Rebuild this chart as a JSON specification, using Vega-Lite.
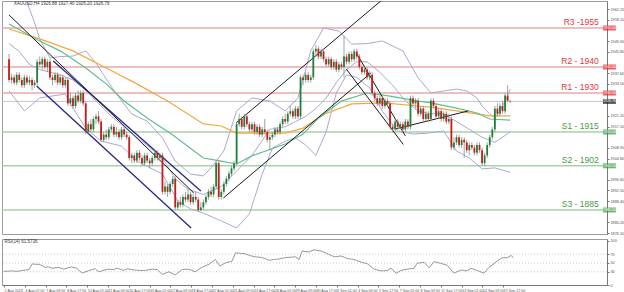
{
"$schema":"https://vega.github.io/schema/vega-lite/v6.json",
"padding":0,
"spacing":2,
"background":"white",
"config":{"view":{"stroke":"#9c9c9c","strokeWidth":1},"font":"Liberation Sans","axis":{"labelOverlap":false,"labelFlush":false,"grid":false,"labelColor":"#555555","tickColor":"#777777","domainColor":"#777777"}},
"datasets":{
"candles":[
{"i":0,"o":1943,"h":1945,"l":1934,"c":1935},{"i":1,"o":1935,"h":1937.5,"l":1933.5,"c":1936},{"i":2,"o":1936,"h":1937,"l":1933,"c":1934},{"i":3,"o":1934,"h":1938,"l":1933,"c":1937},{"i":4,"o":1937,"h":1938,"l":1934,"c":1935},{"i":5,"o":1935,"h":1936,"l":1932,"c":1933},{"i":6,"o":1933,"h":1937,"l":1932,"c":1936},{"i":7,"o":1936,"h":1937,"l":1933,"c":1934},{"i":8,"o":1934,"h":1936.5,"l":1933,"c":1935},{"i":9,"o":1935,"h":1936,"l":1931,"c":1933},
{"i":10,"o":1933,"h":1935,"l":1932,"c":1934},{"i":11,"o":1934,"h":1943,"l":1933,"c":1942},{"i":12,"o":1942,"h":1944,"l":1940,"c":1941},{"i":13,"o":1941,"h":1944,"l":1939,"c":1943},{"i":14,"o":1943,"h":1944,"l":1939,"c":1940},{"i":15,"o":1940,"h":1943,"l":1938,"c":1942},{"i":16,"o":1942,"h":1943,"l":1935,"c":1936},{"i":17,"o":1936,"h":1937,"l":1933,"c":1935},{"i":18,"o":1935,"h":1938,"l":1934,"c":1937},{"i":19,"o":1937,"h":1938,"l":1933,"c":1934},
{"i":20,"o":1934,"h":1937,"l":1933,"c":1936},{"i":21,"o":1936,"h":1937,"l":1932,"c":1933},{"i":22,"o":1933,"h":1936,"l":1932,"c":1935},{"i":23,"o":1935,"h":1936,"l":1925,"c":1926},{"i":24,"o":1926,"h":1930,"l":1925,"c":1928},{"i":25,"o":1928,"h":1929,"l":1924,"c":1925},{"i":26,"o":1925,"h":1930,"l":1924,"c":1929},{"i":27,"o":1929,"h":1931,"l":1926,"c":1927},{"i":28,"o":1927,"h":1931,"l":1926,"c":1930},{"i":29,"o":1930,"h":1931,"l":1925,"c":1926},
{"i":30,"o":1926,"h":1927,"l":1914,"c":1915},{"i":31,"o":1915,"h":1919,"l":1914,"c":1918},{"i":32,"o":1918,"h":1920,"l":1915,"c":1916},{"i":33,"o":1916,"h":1921,"l":1915,"c":1920},{"i":34,"o":1920,"h":1922,"l":1918,"c":1921},{"i":35,"o":1921,"h":1923,"l":1918,"c":1919},{"i":36,"o":1919,"h":1920,"l":1911,"c":1912},{"i":37,"o":1912,"h":1915,"l":1911,"c":1914},{"i":38,"o":1914,"h":1916,"l":1912,"c":1913},{"i":39,"o":1913,"h":1917,"l":1912,"c":1916},
{"i":40,"o":1916,"h":1918,"l":1915,"c":1917},{"i":41,"o":1917,"h":1918,"l":1913,"c":1914},{"i":42,"o":1914,"h":1917,"l":1913,"c":1915},{"i":43,"o":1915,"h":1916,"l":1912,"c":1913},{"i":44,"o":1913,"h":1917,"l":1912,"c":1916},{"i":45,"o":1916,"h":1917,"l":1913,"c":1914},{"i":46,"o":1914,"h":1915,"l":1912,"c":1913},{"i":47,"o":1913,"h":1914,"l":1904,"c":1905},{"i":48,"o":1905,"h":1907,"l":1903,"c":1906},{"i":49,"o":1906,"h":1907,"l":1903,"c":1904},
{"i":50,"o":1904,"h":1908,"l":1903,"c":1907},{"i":51,"o":1907,"h":1908,"l":1904,"c":1905},{"i":52,"o":1905,"h":1906,"l":1902,"c":1903},{"i":53,"o":1903,"h":1907,"l":1902,"c":1906},{"i":54,"o":1906,"h":1907,"l":1903,"c":1904},{"i":55,"o":1904,"h":1905,"l":1901,"c":1903},{"i":56,"o":1903,"h":1906,"l":1902,"c":1905},{"i":57,"o":1905,"h":1908,"l":1904,"c":1907},{"i":58,"o":1907,"h":1908,"l":1904,"c":1905},{"i":59,"o":1905,"h":1907,"l":1904,"c":1906},
{"i":60,"o":1906,"h":1907,"l":1891,"c":1892},{"i":61,"o":1892,"h":1896,"l":1891,"c":1894},{"i":62,"o":1894,"h":1895,"l":1890,"c":1892},{"i":63,"o":1892,"h":1896,"l":1891,"c":1895},{"i":64,"o":1895,"h":1898,"l":1894,"c":1897},{"i":65,"o":1897,"h":1898,"l":1885,"c":1886},{"i":66,"o":1886,"h":1889,"l":1885,"c":1888},{"i":67,"o":1888,"h":1890,"l":1886,"c":1887},{"i":68,"o":1887,"h":1891,"l":1886,"c":1890},{"i":69,"o":1890,"h":1892,"l":1888,"c":1889},
{"i":70,"o":1889,"h":1893,"l":1888,"c":1891},{"i":71,"o":1891,"h":1892,"l":1887,"c":1888},{"i":72,"o":1888,"h":1891,"l":1887,"c":1890},{"i":73,"o":1890,"h":1892,"l":1888,"c":1889},{"i":74,"o":1889,"h":1890,"l":1884.5,"c":1885},{"i":75,"o":1885,"h":1888,"l":1884.5,"c":1886},{"i":76,"o":1886,"h":1889,"l":1885,"c":1888},{"i":77,"o":1888,"h":1891,"l":1887,"c":1890},{"i":78,"o":1890,"h":1893,"l":1889,"c":1892},{"i":79,"o":1892,"h":1894,"l":1890,"c":1891},
{"i":80,"o":1891,"h":1895,"l":1890,"c":1894},{"i":81,"o":1894,"h":1904,"l":1893,"c":1903},{"i":82,"o":1903,"h":1904,"l":1889,"c":1890},{"i":83,"o":1890,"h":1893,"l":1889,"c":1892},{"i":84,"o":1892,"h":1896,"l":1891,"c":1895},{"i":85,"o":1895,"h":1898,"l":1894,"c":1897},{"i":86,"o":1897,"h":1900,"l":1896,"c":1899},{"i":87,"o":1899,"h":1902,"l":1898,"c":1901},{"i":88,"o":1901,"h":1904,"l":1900,"c":1903},{"i":89,"o":1903,"h":1919,"l":1902,"c":1918},
{"i":90,"o":1918,"h":1922,"l":1917,"c":1920},{"i":91,"o":1920,"h":1921,"l":1916,"c":1917},{"i":92,"o":1917,"h":1922,"l":1916,"c":1921},{"i":93,"o":1921,"h":1922,"l":1917,"c":1918},{"i":94,"o":1918,"h":1919,"l":1915,"c":1916},{"i":95,"o":1916,"h":1919,"l":1915,"c":1918},{"i":96,"o":1918,"h":1919,"l":1914,"c":1915},{"i":97,"o":1915,"h":1918,"l":1914,"c":1917},{"i":98,"o":1917,"h":1918,"l":1913,"c":1914},{"i":99,"o":1914,"h":1917,"l":1913,"c":1916},
{"i":100,"o":1916,"h":1920,"l":1914,"c":1915},{"i":101,"o":1915,"h":1916,"l":1911,"c":1912},{"i":102,"o":1912,"h":1914,"l":1908,"c":1913},{"i":103,"o":1913,"h":1915,"l":1912,"c":1914},{"i":104,"o":1914,"h":1917,"l":1913,"c":1916},{"i":105,"o":1916,"h":1917,"l":1914,"c":1915},{"i":106,"o":1915,"h":1919,"l":1914,"c":1918},{"i":107,"o":1918,"h":1921,"l":1917,"c":1920},{"i":108,"o":1920,"h":1922,"l":1918,"c":1919},{"i":109,"o":1919,"h":1923,"l":1918,"c":1922},
{"i":110,"o":1922,"h":1925,"l":1921,"c":1923},{"i":111,"o":1923,"h":1924,"l":1920,"c":1921},{"i":112,"o":1921,"h":1925,"l":1920,"c":1924},{"i":113,"o":1924,"h":1925,"l":1920,"c":1921},{"i":114,"o":1921,"h":1937,"l":1920,"c":1936},{"i":115,"o":1936,"h":1937,"l":1933,"c":1935},{"i":116,"o":1935,"h":1938,"l":1934,"c":1937},{"i":117,"o":1937,"h":1938,"l":1934,"c":1935},{"i":118,"o":1935,"h":1937,"l":1934,"c":1936},{"i":119,"o":1936,"h":1947,"l":1935,"c":1946},
{"i":120,"o":1946,"h":1948.5,"l":1944,"c":1947},{"i":121,"o":1947,"h":1948,"l":1943,"c":1944},{"i":122,"o":1944,"h":1947,"l":1943,"c":1946},{"i":123,"o":1946,"h":1947,"l":1942,"c":1943},{"i":124,"o":1943,"h":1944,"l":1940,"c":1941},{"i":125,"o":1941,"h":1944,"l":1940,"c":1943},{"i":126,"o":1943,"h":1944,"l":1939,"c":1940},{"i":127,"o":1940,"h":1943,"l":1939,"c":1942},{"i":128,"o":1942,"h":1943,"l":1938,"c":1939},{"i":129,"o":1939,"h":1942,"l":1938,"c":1941},
{"i":130,"o":1941,"h":1942,"l":1939,"c":1940},{"i":131,"o":1940,"h":1952,"l":1936,"c":1944},{"i":132,"o":1944,"h":1945,"l":1941,"c":1942},{"i":133,"o":1942,"h":1946,"l":1941,"c":1945},{"i":134,"o":1945,"h":1946,"l":1942,"c":1943},{"i":135,"o":1943,"h":1947,"l":1942,"c":1946},{"i":136,"o":1946,"h":1947,"l":1943,"c":1944},{"i":137,"o":1944,"h":1945,"l":1939,"c":1940},{"i":138,"o":1940,"h":1941,"l":1937,"c":1938},{"i":139,"o":1938,"h":1940,"l":1937,"c":1939},
{"i":140,"o":1939,"h":1940,"l":1935,"c":1936},{"i":141,"o":1936,"h":1938.5,"l":1935,"c":1937},{"i":142,"o":1937,"h":1938,"l":1929,"c":1930},{"i":143,"o":1930,"h":1931,"l":1927,"c":1928},{"i":144,"o":1928,"h":1929,"l":1925,"c":1926},{"i":145,"o":1926,"h":1929,"l":1925,"c":1928},{"i":146,"o":1928,"h":1929,"l":1924,"c":1925},{"i":147,"o":1925,"h":1928,"l":1924,"c":1927},{"i":148,"o":1927,"h":1928,"l":1925,"c":1926},{"i":149,"o":1926,"h":1927,"l":1916,"c":1917},
{"i":150,"o":1917,"h":1918,"l":1915,"c":1916},{"i":151,"o":1916,"h":1920,"l":1915,"c":1919},{"i":152,"o":1919,"h":1920,"l":1916,"c":1917},{"i":153,"o":1917,"h":1919,"l":1916,"c":1918},{"i":154,"o":1918,"h":1919,"l":1915,"c":1916},{"i":155,"o":1916,"h":1920,"l":1915,"c":1919},{"i":156,"o":1919,"h":1920,"l":1916,"c":1917},{"i":157,"o":1917,"h":1929,"l":1916,"c":1928},{"i":158,"o":1928,"h":1929,"l":1925,"c":1926},{"i":159,"o":1926,"h":1928,"l":1924,"c":1927},
{"i":160,"o":1927,"h":1928,"l":1921,"c":1922},{"i":161,"o":1922,"h":1925,"l":1921,"c":1924},{"i":162,"o":1924,"h":1925,"l":1919,"c":1920},{"i":163,"o":1920,"h":1923,"l":1919,"c":1922},{"i":164,"o":1922,"h":1923,"l":1919,"c":1920},{"i":165,"o":1920,"h":1928,"l":1919,"c":1927},{"i":166,"o":1927,"h":1928,"l":1924,"c":1925},{"i":167,"o":1925,"h":1926,"l":1920,"c":1921},{"i":168,"o":1921,"h":1924,"l":1920,"c":1923},{"i":169,"o":1923,"h":1924,"l":1919,"c":1920},
{"i":170,"o":1920,"h":1923,"l":1919,"c":1922},{"i":171,"o":1922,"h":1923,"l":1918,"c":1919},{"i":172,"o":1919,"h":1922,"l":1918,"c":1920},{"i":173,"o":1920,"h":1921,"l":1908,"c":1909},{"i":174,"o":1909,"h":1913,"l":1908,"c":1911},{"i":175,"o":1911,"h":1914,"l":1910,"c":1913},{"i":176,"o":1913,"h":1914,"l":1909,"c":1910},{"i":177,"o":1910,"h":1913,"l":1909,"c":1912},{"i":178,"o":1912,"h":1913,"l":1905,"c":1911},{"i":179,"o":1911,"h":1912,"l":1907,"c":1908},
{"i":180,"o":1908,"h":1911,"l":1906,"c":1910},{"i":181,"o":1910,"h":1911,"l":1908,"c":1909},{"i":182,"o":1909,"h":1910,"l":1906,"c":1907},{"i":183,"o":1907,"h":1911,"l":1906,"c":1910},{"i":184,"o":1910,"h":1911,"l":1907,"c":1908},{"i":185,"o":1908,"h":1909,"l":1902,"c":1903},{"i":186,"o":1903,"h":1907,"l":1902,"c":1906},{"i":187,"o":1906,"h":1911,"l":1905,"c":1910},{"i":188,"o":1910,"h":1914,"l":1909,"c":1913},{"i":189,"o":1913,"h":1917,"l":1912,"c":1916},
{"i":190,"o":1916,"h":1925,"l":1915,"c":1924},{"i":191,"o":1924,"h":1926,"l":1921,"c":1922},{"i":192,"o":1922,"h":1926,"l":1921,"c":1925},{"i":193,"o":1925,"h":1927,"l":1922,"c":1923},{"i":194,"o":1923,"h":1930,"l":1922,"c":1929},{"i":195,"o":1929,"h":1933,"l":1926.5,"c":1927},{"i":196,"o":1926.88,"h":1927.4,"l":1926.2,"c":1926.76}
],
"bb":[
{"s":"u","i":0,"p":1969},{"s":"u","i":4,"p":1967},{"s":"u","i":7,"p":1965},{"s":"u","i":10,"p":1957},{"s":"u","i":12,"p":1950.8},{"s":"u","i":16,"p":1943.5},{"s":"u","i":20,"p":1944},{"s":"u","i":25,"p":1944.2},{"s":"u","i":30,"p":1946.2},{"s":"u","i":34,"p":1941.5},{"s":"u","i":38,"p":1935.4},{"s":"u","i":42,"p":1929.6},{"s":"u","i":48,"p":1921.9},{"s":"u","i":54,"p":1919.2},{"s":"u","i":60,"p":1912.7},{"s":"u","i":65,"p":1903.8},{"s":"u","i":71,"p":1898.8},{"s":"u","i":76,"p":1898.1},{"s":"u","i":79,"p":1901.2},{"s":"u","i":84,"p":1907.7},{"s":"u","i":89,"p":1923.1},{"s":"u","i":95,"p":1928.1},{"s":"u","i":102,"p":1926.9},{"s":"u","i":108,"p":1923.1},{"s":"u","i":113,"p":1928.1},{"s":"u","i":118,"p":1946.2},{"s":"u","i":123,"p":1955},{"s":"u","i":129,"p":1953.8},{"s":"u","i":134,"p":1948.8},{"s":"u","i":140,"p":1949},{"s":"u","i":146,"p":1950},{"s":"u","i":154,"p":1946.2},{"s":"u","i":160,"p":1935.8},{"s":"u","i":165,"p":1930},{"s":"u","i":170,"p":1930.8},{"s":"u","i":175,"p":1931.5},{"s":"u","i":179,"p":1930.8},{"s":"u","i":183,"p":1928.1},{"s":"u","i":185,"p":1925},{"s":"u","i":188,"p":1921.9},{"s":"u","i":190,"p":1920.4},{"s":"u","i":192,"p":1923.1},{"s":"u","i":195,"p":1928.8},{"s":"u","i":196,"p":1931.5},
{"s":"m","i":0,"p":1949},{"s":"m","i":4,"p":1946},{"s":"m","i":8,"p":1941},{"s":"m","i":12,"p":1939},{"s":"m","i":16,"p":1938},{"s":"m","i":20,"p":1937},{"s":"m","i":25,"p":1935},{"s":"m","i":30,"p":1931},{"s":"m","i":35,"p":1926},{"s":"m","i":40,"p":1921},{"s":"m","i":45,"p":1917},{"s":"m","i":50,"p":1913},{"s":"m","i":55,"p":1909},{"s":"m","i":60,"p":1905},{"s":"m","i":65,"p":1897},{"s":"m","i":70,"p":1893},{"s":"m","i":76,"p":1891},{"s":"m","i":83,"p":1894},{"s":"m","i":89,"p":1900},{"s":"m","i":95,"p":1906},{"s":"m","i":102,"p":1916},{"s":"m","i":108,"p":1917},{"s":"m","i":112,"p":1919},{"s":"m","i":116,"p":1921},{"s":"m","i":120,"p":1924},{"s":"m","i":124,"p":1928},{"s":"m","i":128,"p":1934},{"s":"m","i":132,"p":1939},{"s":"m","i":136,"p":1942},{"s":"m","i":140,"p":1942},{"s":"m","i":145,"p":1938},{"s":"m","i":150,"p":1933},{"s":"m","i":155,"p":1927},{"s":"m","i":160,"p":1923},{"s":"m","i":165,"p":1922},{"s":"m","i":170,"p":1922},{"s":"m","i":175,"p":1919},{"s":"m","i":180,"p":1916},{"s":"m","i":185,"p":1913},{"s":"m","i":190,"p":1911},{"s":"m","i":196,"p":1915},
{"s":"l","i":0,"p":1930.8},{"s":"l","i":6,"p":1923.1},{"s":"l","i":12,"p":1928.1},{"s":"l","i":22,"p":1929.6},{"s":"l","i":25,"p":1924.2},{"s":"l","i":30,"p":1916.5},{"s":"l","i":36,"p":1911.5},{"s":"l","i":44,"p":1909.6},{"s":"l","i":50,"p":1903.8},{"s":"l","i":60,"p":1898.8},{"s":"l","i":66,"p":1888.5},{"s":"l","i":71,"p":1885.4},{"s":"l","i":76,"p":1883.8},{"s":"l","i":83,"p":1880.8},{"s":"l","i":89,"p":1878.1},{"s":"l","i":94,"p":1883.5},{"s":"l","i":99,"p":1898.8},{"s":"l","i":103,"p":1908.8},{"s":"l","i":108,"p":1911.5},{"s":"l","i":112,"p":1912.7},{"s":"l","i":116,"p":1910},{"s":"l","i":120,"p":1906},{"s":"l","i":124,"p":1915},{"s":"l","i":128,"p":1930},{"s":"l","i":132,"p":1937},{"s":"l","i":136,"p":1936},{"s":"l","i":141,"p":1932},{"s":"l","i":146,"p":1923},{"s":"l","i":152,"p":1915.4},{"s":"l","i":158,"p":1914.2},{"s":"l","i":164,"p":1914.6},{"s":"l","i":170,"p":1915.4},{"s":"l","i":175,"p":1907.7},{"s":"l","i":180,"p":1905},{"s":"l","i":185,"p":1900.8},{"s":"l","i":190,"p":1901.2},{"s":"l","i":196,"p":1899.5}
],
"ma":[
{"s":"g","i":0,"p":1956.5},{"s":"g","i":12,"p":1950},{"s":"g","i":20,"p":1946.2},{"s":"g","i":30,"p":1939.6},{"s":"g","i":38,"p":1933.5},{"s":"g","i":45,"p":1926.9},{"s":"g","i":54,"p":1920.4},{"s":"g","i":63.5,"p":1914.2},{"s":"g","i":76,"p":1905},{"s":"g","i":83,"p":1903.8},{"s":"g","i":89,"p":1902.7},{"s":"g","i":95,"p":1905.8},{"s":"g","i":108,"p":1910.4},{"s":"g","i":115,"p":1914.2},{"s":"g","i":121,"p":1920.4},{"s":"g","i":130,"p":1926.9},{"s":"g","i":140,"p":1930},{"s":"g","i":149,"p":1928.8},{"s":"g","i":160,"p":1926.9},{"s":"g","i":165,"p":1926.2},{"s":"g","i":175,"p":1924.2},{"s":"g","i":183,"p":1922.3},{"s":"g","i":188,"p":1920},{"s":"g","i":196,"p":1919.6},
{"s":"o","i":0,"p":1954.6},{"s":"o","i":12,"p":1950.8},{"s":"o","i":25,"p":1946.2},{"s":"o","i":38,"p":1939.6},{"s":"o","i":50,"p":1933.5},{"s":"o","i":62,"p":1926.9},{"s":"o","i":76,"p":1918.1},{"s":"o","i":83,"p":1917.3},{"s":"o","i":89,"p":1914.6},{"s":"o","i":95,"p":1914.6},{"s":"o","i":108,"p":1914.6},{"s":"o","i":115,"p":1916.5},{"s":"o","i":123.5,"p":1921.9},{"s":"o","i":134,"p":1925.8},{"s":"o","i":146.5,"p":1926.2},{"s":"o","i":160,"p":1925},{"s":"o","i":165,"p":1924.6},{"s":"o","i":175,"p":1923.1},{"s":"o","i":188,"p":1921.2},{"s":"o","i":196,"p":1921.2}
],
"trend":[
{"t":"k1","c":"k","i":0,"p":1960},{"t":"k1","c":"k","i":72.3,"p":1891.5},
{"t":"n1","c":"n","i":17.3,"p":1942.3},{"t":"n1","c":"n","i":75,"p":1892.3},
{"t":"n2","c":"n","i":10.8,"p":1932.7},{"t":"n2","c":"n","i":71.2,"p":1878.1},
{"t":"k2","c":"k","i":83.8,"p":1889.6},{"t":"k2","c":"k","i":141.5,"p":1937.7},
{"t":"k3","c":"k","i":88.8,"p":1918.5},{"t":"k3","c":"k","i":145.4,"p":1965.4},
{"t":"k4","c":"k","i":135.8,"p":1945.4},{"t":"k4","c":"k","i":155,"p":1913.5},
{"t":"k5","c":"k","i":131.9,"p":1939.2},{"t":"k5","c":"k","i":154.2,"p":1910.2},
{"t":"k6","c":"k","i":151.2,"p":1916.2},{"t":"k6","c":"k","i":179.6,"p":1923.1}
],
"levels":[
{"lvl":1955,"k":"R","lab":"R3 -1955","box":"1955.00"},
{"lvl":1940,"k":"R","lab":"R2 - 1940","box":"1940.00"},
{"lvl":1930,"k":"R","lab":"R1 - 1930","box":"1930.00"},
{"lvl":1915,"k":"S","lab":"S1 - 1915","box":"1915.00"},
{"lvl":1902,"k":"S","lab":"S2 - 1902","box":"1902.00"},
{"lvl":1885,"k":"S","lab":"S3 - 1885","box":"1885.00"},
{"lvl":1926.76,"k":"P","lab":"","box":"1926.76"}
],
"rsi":[
{"i":0,"r":31},{"i":3,"r":32},{"i":5,"r":31},{"i":7,"r":33},{"i":9.6,"r":35},{"i":10.8,"r":48},{"i":12,"r":47},{"i":13.5,"r":47},{"i":15.8,"r":40},{"i":17,"r":41},{"i":18.5,"r":38},{"i":21,"r":40},{"i":23,"r":36},{"i":24.5,"r":39},{"i":26,"r":41},{"i":28,"r":38},{"i":30,"r":27},{"i":32.7,"r":33},{"i":35,"r":37},{"i":36.5,"r":30},{"i":38,"r":33},{"i":40,"r":36},{"i":42,"r":35},{"i":43.5,"r":38},{"i":46,"r":33},{"i":47.3,"r":37},{"i":49,"r":35},{"i":50.5,"r":34},{"i":52,"r":33},{"i":54,"r":33},{"i":57,"r":36},{"i":59,"r":35},{"i":60.8,"r":24},{"i":63.4,"r":30},{"i":65.8,"r":23},{"i":68.5,"r":35},{"i":71,"r":36},{"i":73.5,"r":30},{"i":76,"r":40},{"i":78.8,"r":47},{"i":81.3,"r":58},{"i":83,"r":43},{"i":85,"r":50},{"i":87.7,"r":54},{"i":89,"r":73},{"i":91,"r":72},{"i":92.7,"r":71},{"i":94.5,"r":67},{"i":96.5,"r":64},{"i":98.5,"r":63},{"i":100.5,"r":60},{"i":101.9,"r":56},{"i":104,"r":58},{"i":105.8,"r":59},{"i":108,"r":62},{"i":110,"r":63},{"i":112,"r":64},{"i":113.5,"r":58},{"i":114.6,"r":77},{"i":117.3,"r":75},{"i":119.2,"r":80},{"i":122,"r":77},{"i":124,"r":72},{"i":127,"r":64},{"i":129.6,"r":66},{"i":132,"r":60},{"i":134.6,"r":58},{"i":137.3,"r":52},{"i":139.8,"r":48},{"i":142.3,"r":36},{"i":145,"r":32},{"i":147.4,"r":33},{"i":148.8,"r":38},{"i":150.8,"r":27},{"i":152.7,"r":33},{"i":155,"r":36},{"i":157.7,"r":38},{"i":158.8,"r":49},{"i":161.5,"r":52},{"i":163.5,"r":39},{"i":165.4,"r":53},{"i":168,"r":49},{"i":170.4,"r":45},{"i":173,"r":27},{"i":175.8,"r":34},{"i":178,"r":32},{"i":179.6,"r":38},{"i":182,"r":33},{"i":184.6,"r":27},{"i":186.5,"r":40},{"i":189.2,"r":52},{"i":191.5,"r":62},{"i":193.5,"r":62},{"i":195,"r":67},{"i":196,"r":61.6}
]
},
"vconcat":[
{
"width":605,"height":233,
"resolve":{"axis":{"x":"independent","y":"independent"}},
"layer":[
{"data":{"name":"levels"},
 "mark":{"type":"rule"},
 "encoding":{
  "y":{"field":"lvl","type":"quantitative","title":null,"scale":{"domain":[1875.77,1965.38],"nice":false,"zero":false},
   "axis":{"orient":"right","title":null,"values":[1962.2,1958.1,1949.9,1945.8,1937.6,1933.5,1921.2,1917.1,1908.9,1904.8,1896.6,1892.5,1888.4,1880.2,1876.1],"format":".2f","labelFontSize":3.8,"tickSize":2,"labelPadding":1,"labelOverlap":false,"labelFlush":false}},
  "color":{"condition":[{"test":"datum.k==='R'","value":"#eaa9ab"},{"test":"datum.k==='S'","value":"#a9d2a9"}],"value":"#c6c6c6"},
  "strokeWidth":{"condition":{"test":"datum.k==='P'","value":1},"value":1.6}
 }},
{"data":{"name":"bb"},
 "mark":{"type":"line","color":"#a9a9d2","strokeWidth":1,"clip":true},
 "encoding":{
  "x":{"field":"i","type":"quantitative","scale":{"domain":[-0.8,231.9],"nice":false,"zero":false},"axis":null},
  "y":{"field":"p","type":"quantitative","axis":null},
  "detail":{"field":"s"}}},
{"data":{"name":"ma"},
 "transform":[{"filter":"datum.s==='o'"}],
 "mark":{"type":"line","color":"#f4a640","strokeWidth":1.2,"clip":true},
 "encoding":{
  "x":{"field":"i","type":"quantitative","axis":null},
  "y":{"field":"p","type":"quantitative","axis":null}}},
{"data":{"name":"ma"},
 "transform":[{"filter":"datum.s==='g'"}],
 "mark":{"type":"line","color":"#5fbf90","strokeWidth":1.2,"clip":true},
 "encoding":{
  "x":{"field":"i","type":"quantitative","axis":null},
  "y":{"field":"p","type":"quantitative","axis":null}}},
{"data":{"name":"trend"},
 "transform":[{"filter":"datum.c==='n'"}],
 "mark":{"type":"line","color":"#25258c","strokeWidth":1.3,"clip":true},
 "encoding":{
  "x":{"field":"i","type":"quantitative","axis":null},
  "y":{"field":"p","type":"quantitative","axis":null},
  "detail":{"field":"t"}}},
{"data":{"name":"trend"},
 "transform":[{"filter":"datum.c==='k'"}],
 "mark":{"type":"line","color":"#1a1a1a","strokeWidth":1,"clip":true},
 "encoding":{
  "x":{"field":"i","type":"quantitative","axis":null},
  "y":{"field":"p","type":"quantitative","axis":null},
  "detail":{"field":"t"}}},
{"data":{"name":"candles"},
 "mark":{"type":"rule","color":"#8a8a8a","strokeWidth":0.8},
 "encoding":{
  "x":{"field":"i","type":"quantitative","axis":null},
  "y":{"field":"l","type":"quantitative","axis":null},
  "y2":{"field":"h"}}},
{"data":{"name":"candles"},
 "mark":{"type":"bar","width":1.8},
 "encoding":{
  "x":{"field":"i","type":"quantitative","axis":null},
  "y":{"field":"o","type":"quantitative","axis":null},
  "y2":{"field":"c"},
  "color":{"condition":{"test":"datum.c>=datum.o","value":"#1d8236"},"value":"#c91b1b"}}},
{"data":{"name":"levels"},
 "transform":[{"filter":"datum.k!=='P'"}],
 "mark":{"type":"text","align":"right","baseline":"bottom","dy":-1,"fontSize":8.5},
 "encoding":{
  "x":{"datum":230.6,"type":"quantitative","axis":null},
  "y":{"field":"lvl","type":"quantitative","axis":null},
  "text":{"field":"lab"},
  "color":{"condition":{"test":"datum.k==='R'","value":"#e2363a"},"value":"#4a9a42"}}},
{"data":{"name":"levels"},
 "mark":{"type":"tick","orient":"horizontal","size":13,"thickness":5,"clip":false},
 "encoding":{
  "x":{"datum":234.8,"type":"quantitative","axis":null},
  "y":{"field":"lvl","type":"quantitative","axis":null},
  "color":{"condition":[{"test":"datum.k==='R'","value":"#e8191e"},{"test":"datum.k==='S'","value":"#33993a"}],"value":"#111111"}}},
{"data":{"name":"levels"},
 "mark":{"type":"text","align":"center","baseline":"middle","fontSize":3.6,"color":"white","clip":false},
 "encoding":{
  "x":{"datum":234.8,"type":"quantitative","axis":null},
  "y":{"field":"lvl","type":"quantitative","axis":null},
  "text":{"field":"box"}}},
{"data":{"values":[{"t":"XAUUSD,H4  1926.88 1927.40 1926.20 1926.76"}]},
 "mark":{"type":"text","align":"left","baseline":"middle","fontSize":4.5,"color":"#333333"},
 "encoding":{
  "x":{"datum":1.8,"type":"quantitative","axis":null},
  "y":{"datum":1964.2,"type":"quantitative","axis":null},
  "text":{"field":"t"}}}
]
},
{
"width":605,"height":46,
"resolve":{"axis":{"x":"independent","y":"independent"}},
"layer":[
{"data":{"values":[{"v":30},{"v":50},{"v":70}]},
 "mark":{"type":"rule","color":"#bdbdbd","strokeDash":[1,2],"strokeWidth":0.8},
 "encoding":{
  "y":{"field":"v","type":"quantitative","title":null,"scale":{"domain":[0,104.5],"nice":false,"zero":false},
   "axis":{"orient":"right","title":null,"values":[0,30,50,70,100],"labelFontSize":3.8,"tickSize":2,"labelPadding":1,"labelOverlap":false,"labelFlush":false}}}},
{"data":{"name":"rsi"},
 "mark":{"type":"line","color":"#8c8c8c","strokeWidth":0.9},
 "encoding":{
  "x":{"field":"i","type":"quantitative","title":null,"scale":{"domain":[-0.8,231.9],"nice":false,"zero":false},
   "axis":{"title":null,"values":[0,8,16,24,32,40,48,56,64,72,80,88,96,104,112,120,128,136,144,152,160,168,176,184,192],
   "labelExpr":"['2 Aug 2023','4 Aug 01:00','7 Aug 09:00','8 Aug 17:00','10 Aug 01:00','11 Aug 09:00','14 Aug 17:00','16 Aug 01:00','17 Aug 09:00','18 Aug 17:00','22 Aug 01:00','23 Aug 09:00','24 Aug 17:00','28 Aug 01:00','29 Aug 09:00','30 Aug 17:00','1 Sep 01:00','4 Sep 09:00','5 Sep 17:00','7 Sep 01:00','8 Sep 09:00','11 Sep 17:00','13 Sep 01:00','14 Sep 09:00','15 Sep 17:00'][round(datum.value/8)]",
   "labelAlign":"left","labelFontSize":3.6,"tickSize":2,"labelPadding":1,"labelOverlap":false,"labelFlush":false}},
  "y":{"field":"r","type":"quantitative","axis":null}}},
{"data":{"values":[{"t":"RSI(14) 61.5736"}]},
 "mark":{"type":"text","align":"left","baseline":"middle","fontSize":4.5,"color":"#333333"},
 "encoding":{
  "x":{"datum":0.2,"type":"quantitative","axis":null},
  "y":{"datum":98,"type":"quantitative","axis":null},
  "text":{"field":"t"}}}
]
}
]
}
